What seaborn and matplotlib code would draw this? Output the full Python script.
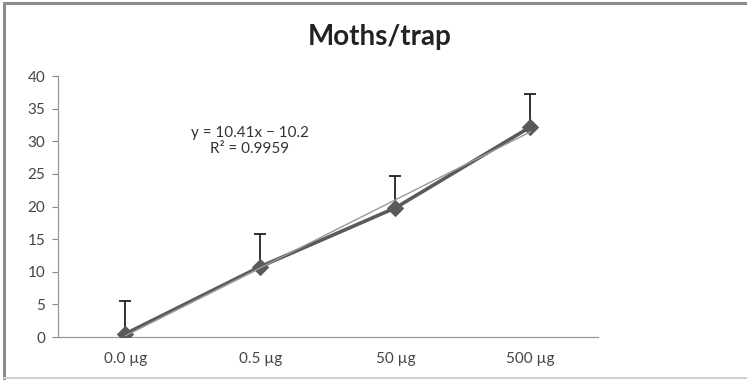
import matplotlib
matplotlib.use("Agg")
import matplotlib.pyplot as plt
import seaborn as sns
import pandas as pd
from matplotlib.lines import Line2D

# Werte
doses = ["0.0 µg", "0.5 µg", "50 µg", "500 µg"]
positions = [1, 2, 3, 4]
moths = [0.5, 10.8, 19.8, 32.2]
errors = [5.0, 5.0, 4.9, 5.0]

df = pd.DataFrame({"pos": positions, "moths": moths, "err": errors})

sns.set_style("white")
plt.rcParams["font.family"] = ["Lato", "DejaVu Sans"]

fig = plt.figure(figsize=(7.47, 3.80), dpi=100)
ax = fig.add_axes([0.0776, 0.113, 0.7229, 0.687])

# Fehlerbalken nur nach oben
ax.errorbar(df["pos"], df["moths"], yerr=[[0] * len(df), df["err"]],
            fmt="none", ecolor="#222222", elinewidth=1.3, capsize=4, capthick=1.3, zorder=2)

sns.lineplot(data=df, x="pos", y="moths", marker="D", markersize=8,
             color="#5a5a5a", linewidth=2.6, markeredgecolor="#5a5a5a", ax=ax, zorder=3)

# lineare Trendlinie
sns.regplot(data=df, x="pos", y="moths", scatter=False, ci=None, truncate=True,
            line_kws={"color": "#9a9a9a", "linewidth": 1.0, "zorder": 4}, ax=ax)

ax.set_xlim(0.5, 4.5)
ax.set_ylim(0, 40)
ax.set_yticks(range(0, 41, 5))
ax.set_xticks(positions)
ax.set_xticklabels(doses)
ax.set_xticks([0.5, 1.5, 2.5, 3.5, 4.5], minor=True)
ax.tick_params(axis="x", which="major", length=0, labelsize=11, colors="#444444", pad=11)
ax.tick_params(axis="x", which="minor", length=5, color="#888888", direction="out")
ax.tick_params(axis="y", which="major", length=4, color="#888888", direction="out",
               labelsize=11, labelcolor="#444444", left=True, pad=5)
ax.set_xlabel("")
ax.set_ylabel("")

for side in ["top", "right"]:
    ax.spines[side].set_visible(False)
for side in ["left", "bottom"]:
    ax.spines[side].set_color("#999999")
    ax.spines[side].set_linewidth(0.9)

ax.text(1.92, 30.0, "y = 10.41x \u2212 10.2\nR² = 0.9959", ha="center", va="center",
        fontsize=11, color="#333333", linespacing=1.2)

fig.text(0.508, 0.903, "Moths/trap", ha="center", va="center",
         fontsize=20, fontweight="bold", color="#222222")

# Rahmen um das Diagramm (rechts abgeschnitten)
fig.lines.append(Line2D([0.006, 0.006], [0.003, 0.993], transform=fig.transFigure,
                        color="#8c8c8c", linewidth=2.2))
fig.lines.append(Line2D([0.006, 1.0], [0.993, 0.993], transform=fig.transFigure,
                        color="#8c8c8c", linewidth=2.2))
fig.lines.append(Line2D([0.006, 1.0], [0.004, 0.004], transform=fig.transFigure,
                        color="#d0d0d0", linewidth=1.5))

fig.savefig("out.png", dpi=100)
